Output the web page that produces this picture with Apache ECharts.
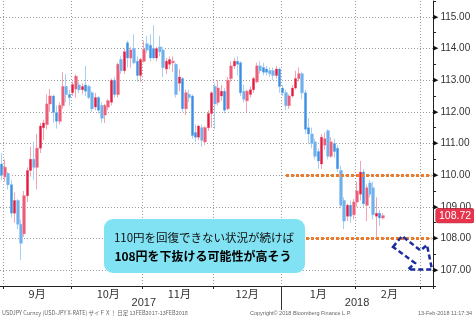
<!DOCTYPE html>
<html><head><meta charset="utf-8">
<script src="https://cdn.jsdelivr.net/npm/echarts@6/dist/echarts.min.js"></script>
<style>html,body{margin:0;padding:0;background:#fff}#c{width:474px;height:322px}</style>
</head><body><div id="c"></div>
<script>
const dates = [
'2017-08-31',
'2017-09-01','2017-09-04','2017-09-05','2017-09-06','2017-09-07','2017-09-08','2017-09-11','2017-09-12','2017-09-13','2017-09-14','2017-09-15','2017-09-18','2017-09-19','2017-09-20','2017-09-21','2017-09-22','2017-09-25','2017-09-26','2017-09-27','2017-09-28','2017-09-29',
'2017-10-02','2017-10-03','2017-10-04','2017-10-05','2017-10-06','2017-10-09','2017-10-10','2017-10-11','2017-10-12','2017-10-13','2017-10-16','2017-10-17','2017-10-18','2017-10-19','2017-10-20','2017-10-23','2017-10-24','2017-10-25','2017-10-26','2017-10-27','2017-10-30','2017-10-31',
'2017-11-01','2017-11-02','2017-11-03','2017-11-06','2017-11-07','2017-11-08','2017-11-09','2017-11-10','2017-11-13','2017-11-14','2017-11-15','2017-11-16','2017-11-17','2017-11-20','2017-11-21','2017-11-22','2017-11-23','2017-11-24','2017-11-27','2017-11-28','2017-11-29','2017-11-30',
'2017-12-01','2017-12-04','2017-12-05','2017-12-06','2017-12-07','2017-12-08','2017-12-11','2017-12-12','2017-12-13','2017-12-14','2017-12-15','2017-12-18','2017-12-19','2017-12-20','2017-12-21','2017-12-22','2017-12-25','2017-12-26','2017-12-27','2017-12-28','2017-12-29',
'2018-01-01','2018-01-02','2018-01-03','2018-01-04','2018-01-05','2018-01-08','2018-01-09','2018-01-10','2018-01-11','2018-01-12','2018-01-15','2018-01-16','2018-01-17','2018-01-18','2018-01-19','2018-01-22','2018-01-23','2018-01-24','2018-01-25','2018-01-26','2018-01-29','2018-01-30','2018-01-31',
'2018-02-01','2018-02-02','2018-02-05','2018-02-06','2018-02-07','2018-02-08','2018-02-09','2018-02-12','2018-02-13','2018-02-14','2018-02-15','2018-02-16','2018-02-19','2018-02-20','2018-02-21','2018-02-22','2018-02-23','2018-02-26','2018-02-27','2018-02-28',
'2018-03-01','2018-03-02','2018-03-05','2018-03-06'];

const openP = [110.35,109.95,110.05,109.70,108.80,109.20,108.45,108.15,109.35,110.15,110.50,110.25,110.85,111.50,111.60,112.25,112.50,111.98,111.70,112.20,112.80,112.55,
112.60,112.72,112.85,112.70,112.85,112.80,112.60,112.15,112.45,112.20,111.90,112.15,112.30,113.00,112.55,113.65,113.30,114.18,113.70,114.00,113.60,113.15,
113.60,114.15,114.10,114.00,113.70,114.05,113.95,113.35,113.50,113.55,113.50,112.90,113.05,112.10,112.55,112.50,111.35,111.20,111.50,111.05,111.50,111.95,
112.80,112.30,112.50,112.65,112.10,113.05,113.45,113.60,113.55,112.65,112.35,112.55,112.70,112.95,113.45,113.40,113.35,113.30,113.30,113.15,113.35,
112.75,112.60,112.20,112.50,112.75,113.05,113.20,112.60,111.50,111.30,111.05,110.75,110.35,110.95,111.40,110.60,111.00,110.85,110.15,109.20,108.70,109.05,108.75,
109.15,109.40,110.10,109.05,109.75,109.60,108.70,108.80,108.65];
const closeP = [110.00,110.25,109.70,108.80,109.20,108.45,107.85,109.35,110.15,110.50,110.25,110.85,111.55,111.65,112.25,112.50,111.98,111.70,112.20,112.80,112.55,112.45,
112.86,113.12,112.70,112.80,112.65,112.45,112.10,112.45,112.05,111.80,112.20,112.35,113.00,112.55,113.50,113.30,113.90,113.70,113.95,113.55,113.15,113.65,
113.97,113.95,113.70,113.70,114.00,113.90,113.40,113.60,113.65,113.60,112.55,113.10,112.10,112.60,112.45,111.25,111.20,111.55,111.10,111.50,111.95,112.60,
112.25,112.75,112.65,112.05,113.00,113.45,113.60,113.50,112.60,112.40,112.65,112.70,113.05,113.45,113.30,113.25,113.25,113.20,113.15,113.35,112.80,
112.60,112.20,112.50,112.75,113.05,113.20,112.60,111.45,111.30,111.00,110.60,110.45,111.20,111.15,110.60,111.05,110.75,110.20,109.05,108.55,109.05,108.70,109.15,
109.50,110.10,109.10,109.60,109.40,108.75,108.80,108.65,108.72];
const lowP = [109.85,109.80,109.55,108.65,108.50,108.30,107.32,108.05,109.15,109.95,109.85,109.55,110.70,111.10,111.45,112.00,111.65,111.47,111.60,112.10,112.30,112.20,
112.50,112.45,112.60,112.55,112.50,112.40,112.00,112.05,111.95,111.65,111.65,112.05,112.20,112.45,112.45,113.20,113.20,113.40,113.40,113.50,112.95,112.95,
113.55,113.85,113.60,113.65,113.60,113.75,113.10,113.20,113.35,113.25,112.45,112.65,112.00,111.90,112.30,111.15,111.05,111.10,110.90,110.95,111.40,111.50,
111.45,112.20,112.35,111.95,112.05,112.95,113.35,113.15,112.50,112.30,112.00,112.45,112.60,112.90,113.20,113.15,113.15,113.10,113.00,113.05,112.60,
112.50,112.05,112.10,112.45,112.70,112.95,112.40,111.30,111.00,110.85,110.50,110.20,110.20,110.80,110.50,110.55,110.55,110.10,108.95,108.30,108.55,108.50,108.60,
109.00,109.20,109.00,108.55,109.30,108.60,108.05,108.40,108.60];
const highP = [110.70,110.50,110.10,109.85,109.45,109.25,108.60,109.50,110.25,110.90,111.05,111.30,111.65,111.75,112.55,112.72,112.55,112.20,112.30,113.25,113.20,112.70,
112.95,113.18,112.95,112.90,113.45,112.85,112.65,112.60,112.50,112.30,112.25,112.40,113.05,113.10,113.55,113.75,114.00,114.25,114.05,114.45,113.75,113.70,
114.25,114.40,114.45,114.73,114.05,114.40,114.05,113.70,113.75,113.75,113.55,113.35,113.10,112.70,112.70,112.55,111.60,111.60,111.60,111.55,112.05,112.65,
112.90,113.00,112.85,112.75,113.10,113.60,113.70,113.75,113.60,112.85,112.70,112.80,113.10,113.55,113.60,113.55,113.45,113.40,113.40,113.45,113.40,
112.85,112.70,112.55,112.85,113.30,113.40,113.25,112.70,111.80,111.50,111.15,110.85,111.30,111.35,111.45,111.20,111.15,110.95,110.30,109.30,109.10,109.20,109.25,
109.80,110.45,110.20,109.70,109.85,109.80,109.30,108.90,108.80];

const monthLabels = ['9月','10月','11月','12月','1月','2月'];
const monthKeys = ['2017-09','2017-10','2017-11','2017-12','2018-01','2018-02'];
const yearLabels = ['2017','2018'];
const yGridValues = [107,108,109,110,111,112,113,114,115];
const lastPrice = 108.72;
const levelValues = [110, 108];
const levelStartDate = '2018-01-02';
const calloutLines = ['110円を回復できない状況が続けば','108円を下抜ける可能性が高そう'];
const footerTexts = ['USDJPY Curncy (USD-JPY X-RATE) ザイＦＸ！ 日足 13FEB2017-13FEB2018','Copyright© 2018 Bloomberg Finance L.P.','13-Feb-2018 11:17:34'];

// derived indices
const monthOf = d => d.slice(0,7);
const boundaries = [];
for (let i = 1; i < dates.length; i++) if (monthOf(dates[i]) !== monthOf(dates[i-1])) boundaries.push(i);
const monthLabelAt = {};
monthKeys.forEach((k, j) => {
  const idx = dates.map((d,i)=>monthOf(d)===k?i:-1).filter(i=>i>=0);
  monthLabelAt[Math.round((idx[0]+idx[idx.length-1])/2)] = monthLabels[j];
});
const yearLabelAt = {};
yearLabels.forEach(y => {
  const idx = dates.map((d,i)=>(d.slice(0,4)===y && monthKeys.concat(['2018-03']).includes(monthOf(d)))?i:-1).filter(i=>i>=0);
  yearLabelAt[Math.round((idx[0]+idx[idx.length-1])/2)] = y;
});
let yearBoundary = 0;
for (let i = 1; i < dates.length; i++) if (dates[i].slice(0,4) !== dates[i-1].slice(0,4)) yearBoundary = i;

const candles = openP.map((o,i)=>[o, closeP[i], lowP[i], highP[i]]);
const lastDate = dates[dates.length-1];

const chart = echarts.init(document.getElementById('c'), null, {renderer:'canvas'});
const cjk = '"Noto Sans CJK JP", sans-serif';
const lat = '"Liberation Sans", Arial, sans-serif';

const option = {
  animation: false,
  backgroundColor: '#fff',
  grid: { left: 0, right: 41, top: 1, bottom: 36, containLabel: false, outerBoundsMode: 'none' },
  xAxis: [{
    type: 'category', data: dates, boundaryGap: true,
    axisLine: { show: true, lineStyle: { color: '#222', width: 1 } },
    axisTick: { show: true, length: 3, interval: (i) => boundaries.includes(i), lineStyle: { color: '#222' } },
    splitLine: { show: true, interval: (i) => boundaries.includes(i), lineStyle: { color: '#9a9a9a', type: [1,2], width: 1 } },
    axisLabel: { show: true, interval: (i) => monthLabelAt[i] !== undefined, formatter: (v, i) => monthLabelAt[i] || '',
      color: '#333', fontSize: 11, fontFamily: cjk, margin: 2 }
  }, {
    type: 'category', data: dates, boundaryGap: true, position: 'bottom', gridIndex: 0,
    axisLine: { show: false }, axisTick: { show: false }, splitLine: { show: false },
    axisLabel: { show: true, interval: (i) => yearLabelAt[i] !== undefined, formatter: (v, i) => yearLabelAt[i] || '',
      color: '#333', fontSize: 11, fontFamily: lat, margin: 11 }
  }],
  yAxis: {
    type: 'value', position: 'right', min: 106.5, max: 115.5, interval: 0.5, scale: true,
    axisLine: { show: true, lineStyle: { color: '#222' } },
    axisTick: { show: true, length: 3, inside: false, lineStyle: { color: '#222' } },
    splitLine: { show: false },
    axisLabel: {
      margin: 0,
      formatter: v => Number.isInteger(v) ? '{t|▶}{v|' + v.toFixed(2) + '}' : '',
      rich: {
        t: { fontSize: 7, color: '#111', fontFamily: '"DejaVu Sans"' },
        v: { fontSize: 10, color: '#333', fontFamily: lat, padding: [0,0,0,2] }
      }
    }
  },
  series: [{
    type: 'line', data: [], silent: true,
    markLine: { silent: true, symbol: ['none','none'], z: 1, animation: false,
      label: { show: false },
      lineStyle: { color: '#9a9a9a', type: [1,2], width: 1 },
      data: yGridValues.map(v => ({ yAxis: v })) }
  }, {
    type: 'candlestick', data: candles, barWidth: 3, z: 2, silent: true,
    itemStyle: { color: '#f4a3b3', color0: '#a8d0f4', borderColor: '#f4a3b3', borderColor0: '#a8d0f4', borderWidth: 1 }
  }, {
    type: 'candlestick', data: candles, barWidth: 2, z: 3, silent: true,
    itemStyle: { color: '#e4193c', color0: '#3d8fe3', borderColor: '#e4193c', borderColor0: '#3d8fe3', borderWidth: 0 },
    markLine: { silent: true, symbol: ['none','none'], z: 6, animation: false,
      label: { show: false },
      data: levelValues.map(v => [
        { coord: [levelStartDate, v], lineStyle: { color: '#ee7b2a', width: 3, type: [3,2] } },
        { coord: [lastDate, v] }
      ]).concat([{ yAxis: lastPrice, lineStyle: { width: 0, color: 'transparent' },
        label: { show: true, position: 'end', distance: 3, formatter: lastPrice.toFixed(2),
          color: '#fff', backgroundColor: '#e8334d', borderColor: '#a01028', borderWidth: 0.5, borderRadius: 2,
          padding: [2,3,1,3], fontSize: 10.5, fontFamily: lat } }])
    }
  }],
  graphic: [
    { type: 'rect', z: 100, shape: { x: 104, y: 219, width: 201, height: 54, r: 9 }, style: { fill: '#80e2f2' } },
    { type: 'text', z: 101, style: { text: calloutLines[0], x: 204, y: 238, textAlign: 'center', textVerticalAlign: 'middle', fill: '#111', font: '11.5px ' + cjk } },
    { type: 'text', z: 101, style: { text: calloutLines[1], x: 203, y: 256, textAlign: 'center', textVerticalAlign: 'middle', fill: '#000', font: 'bold 12px ' + cjk } },
    { type: 'polygon', z: 100, shape: { points: [[393,247],[402,236],[420.5,250.5],[427,245],[432,269.5],[408,269.5],[415,263]] },
      style: { fill: 'none', stroke: '#1b2c9e', lineWidth: 2.5, lineDash: [5,3] } },
    { type: 'text', z: 100, style: { text: footerTexts[0], x: 2, y: 313, textVerticalAlign: 'middle', fill: '#666', font: '5.5px ' + cjk } },
    { type: 'text', z: 100, style: { text: footerTexts[1], x: 250, y: 313, textVerticalAlign: 'middle', fill: '#666', font: '5.5px ' + lat } },
    { type: 'text', z: 100, style: { text: footerTexts[2], x: 472, y: 313, textAlign: 'right', textVerticalAlign: 'middle', fill: '#666', font: '5.5px ' + lat } }
  ]
};
chart.setOption(option);

// year separator below the axis, placed from the axis scale
const xa = chart.convertToPixel({ xAxisIndex: 0 }, dates[yearBoundary]);
const xb = chart.convertToPixel({ xAxisIndex: 0 }, dates[yearBoundary - 1]);
const sepX = Math.round((xa + xb) / 2) + 0.5;
const yAxisBottom = chart.convertToPixel({ yAxisIndex: 0 }, 106.5);
const g = option.graphic.slice();
g.push({ type: 'line', z: 100, shape: { x1: sepX, y1: yAxisBottom, x2: sepX, y2: yAxisBottom + 24 }, style: { stroke: '#333', lineWidth: 1 } });
chart.setOption({ graphic: g }, { replaceMerge: ['graphic'] });
</script>
</body></html>
